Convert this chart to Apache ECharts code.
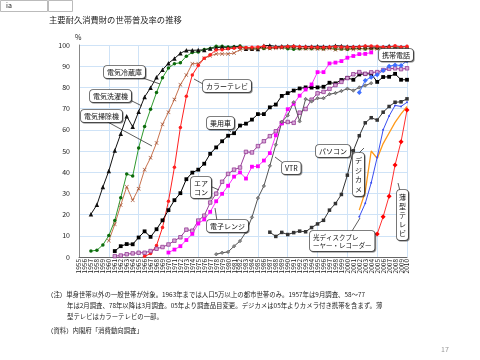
<!DOCTYPE html>
<html><head><meta charset="utf-8">
<script src="https://cdn.jsdelivr.net/npm/echarts@6/dist/echarts.min.js"></script>
<style>html,body{margin:0;padding:0;background:#fff}#c{width:480px;height:360px}</style>
</head><body><div id="c"></div>
<script>
const years = ['1955','1956','1957','1958','1959','1960','1961','1962','1963','1964','1965','1966','1967','1968','1969','1970','1971','1972','1973','1974','1975','1976','1977','1978','1979','1980','1981','1982','1983','1984','1985','1986','1987','1988','1989','1990','1991','1992','1993','1994','1995','1996','1997','1998','1999','2000','2001','2002','2003','2004','2005','2006','2007','2008','2009','2010'];
const yTicks = [0,10,20,30,40,50,60,70,80,90,100];

const washer = [20.2,24.6,33.0,40.6,50.2,58.1,66.4,61.4,68.5,75.5,79.8,84.8,88.3,91.4,93.6,96.1,97.5,97.5,97.6,97.7,98.4,98.7,99.0,98.8,99.2,99.3,98.2,98.2,98.1,99.7,99.8,99.3,99.4,99.5,99.5,99.3,99.3,99.3,99.4,99.3,99.2,99.7,99.5,99.3,99.2,99.3,99.4,99.0,99.0,99.0,99.5,99.0,99.1,99.2];
const fridge = [2.8,3.2,5.7,10.1,17.2,28.0,39.1,38.2,51.4,61.6,69.7,77.6,84.6,89.1,91.2,91.6,94.7,96.5,96.7,97.9,98.4,99.4,99.4,99.1,99.2,99.5,98.7,98.4,98.4,98.4,98.5,98.8,98.9,98.2,98.0,98.2,98.3,98.2,98.5,98.2,98.8,98.1,98.1,98.0,98.4,98.4,98.1,98.4,98.5,98.4,98.5,98.4,98.6,98.2];
const vacuum = [7.7,15.4,24.5,33.1,26.8,32.2,41.2,46.8,53.8,62.6,68.3,74.3,81.3,85.8,91.2,91.2,93.7,94.9,95.8,95.8,95.8,96.2,97.8,98.3,98.1,98.3,98.5,98.4,98.5,98.6,98.8,98.8,98.3,98.2,98.3,98.1,98.0,98.3,97.8,98.1,98.0,97.9,98.2,98.3,98.1,98.2,98.2,98.4,98.3,98.2,98.3];
const colorTV = [0.3,1.6,5.4,13.9,26.3,42.3,61.1,75.8,85.9,90.3,93.7,95.4,97.7,97.8,98.2,98.5,98.9,98.8,98.9,99.1,99.4,98.7,98.9,99.0,99.3,99.4,99.2,99.0,99.0,98.9,98.9,99.1,99.2,99.0,99.0,99.0,99.2,99.5,99.5,99.4,99.0,99.0,99.7,99.1,99.4];
const car = [2.8,5.1,6.1,6.0,9.2,12.1,9.5,13.1,17.3,22.1,26.8,30.1,36.7,39.8,41.2,44.0,48.7,51.7,54.6,57.2,58.4,62.0,62.9,64.8,67.4,67.4,70.6,71.9,76.0,77.3,78.5,79.5,80.0,79.9,80.0,80.3,82.2,81.9,83.5,84.5,83.6,86.1,86.4,86.4,82.6,84.9,85.0,86.4,83.6,83.6];
const aircon = [0.4,0.7,1.3,1.7,2.0,2.0,2.8,3.9,4.7,5.9,7.7,9.3,12.9,12.4,17.2,19.5,25.7,29.9,35.5,39.2,41.2,42.2,49.6,49.3,52.3,54.6,57.0,59.3,63.3,63.7,63.3,68.1,69.8,74.2,77.2,77.9,79.3,81.1,82.6,84.4,86.2,87.2,86.4,87.1,87.2,88.2,88.8,89.0,88.6,89.0];
const microwave = [2.1,3.5,5.1,8.0,10.9,15.8,17.7,21.3,26.3,29.8,33.6,37.9,39.9,37.0,42.6,42.8,45.5,49.0,57.4,63.0,69.7,72.3,76.1,79.0,81.4,87.2,87.2,91.3,91.7,92.4,94.0,94.8,95.7,95.8,96.5];
const vtr = [1.3,2.0,2.4,5.1,7.5,11.8,18.7,27.8,33.5,43.0,53.0,63.7,66.8,73.0,64.0,74.5,73.4,74.9,74.9,76.8,77.3,78.3,79.4,78.5,80.0,80.9,82.0];
const pc = [11.7,9.7,11.6,10.6,11.5,12.2,11.9,13.9,15.6,17.3,22.1,25.2,29.5,38.6,50.1,57.2,63.3,65.7,64.6,68.3,71.0,73.0,73.2,74.6];
const mobile = [77.6,83.3,84.8,86.0,88.0,90.0,90.6,90.3,92.6];
const digicam = [22.1,30.8,50.0,46.5,53.5,58.5,63.5,67.5,71.0];
const optical = [19.0,25.3,35.0,47.0,60.0,66.5,71.5,71.0,73.0];
const flatTV = [10.8,19.0,28.7,43.4,54.4,69.3];

function pad(startYear, vals){
  const out = years.map(()=>null);
  const off = years.indexOf(String(startYear));
  vals.forEach((v,i)=>{ out[off+i]=v; });
  return out;
}
function s(name, start, vals, color, symbol, size, extra){
  return Object.assign({
    name, type:'line', data: pad(start, vals), symbol, symbolSize: size,
    lineStyle:{color, width:1}, itemStyle:{color, borderWidth:0},
    showSymbol: symbol!=='none', animation:false, z:3
  }, extra||{});
}
const series = [
  s('電気冷蔵庫',1957,fridge,'#2e9a2e','circle',3.5,{itemStyle:{color:'#0d6b0d'}}),
  s('電気洗濯機',1957,washer,'#111','triangle',4.5),
  s('電気掃除機',1960,vacuum,'#c8734f','path://M0,1L1,0L5,4L9,0L10,1L6,5L10,9L9,10L5,6L1,10L0,9L4,5Z',4,{itemStyle:{color:'#a04a2a'}}),
  s('カラーテレビ',1966,colorTV,'#ff2020','circle',3.5),
  s('乗用車',1961,car,'#000','rect',3.8),
  s('エアコン',1961,aircon,'#9b3f9b','rect',3.5,{itemStyle:{color:'#d7a8d7',borderColor:'#8a2a8a',borderWidth:0.7}}),
  s('電子レンジ',1970,microwave,'#ff33ff','rect',3.8,{itemStyle:{color:'#ff00ff'}}),
  s('VTR',1978,vtr,'#555','diamond',3.5,{itemStyle:{color:'#888',borderColor:'#444',borderWidth:0.5}}),
  s('パソコン',1987,pc,'#333','path://M0,0L10,0L10,3L0,3Z',3.5),
  s('デジカメ',2002,digicam,'#ff9a1a','none',0,{lineStyle:{color:'#ff9a1a',width:1.3}}),
  s('光ディスクプレーヤー・レコーダー',2002,optical,'#3a4ef0','circle',2),
  s('携帯電話',2002,mobile,'#3f6fff','diamond',5,{itemStyle:{color:'#3f6fff'}}),
  s('薄型テレビ',2005,flatTV,'#ff3030','diamond',5,{itemStyle:{color:'#ff0000'}})
];

const F = '"Noto Sans CJK JP", sans-serif';
function box(x,y,text,fs,extra){
  return Object.assign({type:'text', x, y, z:10, style:{text, font: (fs||7)+'px '+F, fill:'#111',
    backgroundColor:'#fff', borderColor:'#555', borderWidth:0.8, borderRadius:3, padding:[2,3,1,3],
    shadowColor:'rgba(0,0,0,0.35)', shadowOffsetX:1, shadowOffsetY:1, lineHeight:(fs||7)+2}}, extra||{});
}
function vbox(x,y,text,lh){
  return {type:'text', x, y, z:10, style:{text, font:'7px '+F, fill:'#111', backgroundColor:'#fff', borderColor:'#555', borderWidth:0.8, borderRadius:3, padding:[3,2,2,2], lineHeight:lh, shadowColor:'rgba(0,0,0,0.35)', shadowOffsetX:1, shadowOffsetY:1}};
}
function lead(pts){ return {type:'polyline', z:9, shape:{points:pts}, style:{stroke:'#333', lineWidth:0.8, fill:null}}; }

const graphic = [
  {type:'rect', shape:{x:0.5,y:0.5,width:47,height:11}, style:{fill:'#fff',stroke:'#bbb',lineWidth:1}},
  {type:'rect', shape:{x:48.5,y:0.5,width:24,height:11}, style:{fill:'#fff',stroke:'#bbb',lineWidth:1}},
  {type:'text', x:6, y:2, style:{text:'ia', font:'7px '+F, fill:'#222'}},
  {type:'text', x:49, y:16, style:{text:'主要耐久消費財の世帯普及率の推移', font:'8.3px '+F, fill:'#222'}},
  {type:'text', x:75, y:34, style:{text:'%', font:'7px '+F, fill:'#222'}},
  lead([[140,77],[160,84]]), box(104,66,'電気冷蔵庫'),
  lead([[128,99],[142,106]]), box(90,90,'電気洗濯機'),
  lead([[104,120],[152,146]]), box(81,110,'電気掃除機'),
  lead([[203,84],[194,79]]), box(203,80,'カラーテレビ'),
  lead([[224,126],[231,132]]), box(207,117,'乗用車'),
  lead([[403,58],[406,62]]), box(379,49,'携帯電話'),
  lead([[347,149],[353,151]]), box(316,145,'パソコン'),
  lead([[283,163],[275,157]]), box(282,162,'VTR'),
  lead([[212,187],[219,190]]), box(191,177,'エア\nコン'),
  lead([[217,221],[215,208]]), box(207,220,'電子レンジ'),
  lead([[358,154],[364,148]]), vbox(353,153,'デ\nジ\nカ\nメ',9.5),
  lead([[352,231],[360,218]]), box(310,231,'光ディスクプレ\nーヤー・レコーダー',6.5),
  lead([[400,191],[398,183]]), vbox(397,190,'薄\n型\nテ\nレ\nビ',9),
  {type:'text', x:47, y:291, style:{text:'（注）単身世帯以外の一般世帯が対象。1963年までは人口5万以上の都市世帯のみ。1957年は9月調査、58～77', font:'6.4px '+F, fill:'#222'}},
  {type:'text', x:67, y:302, style:{text:'年は2月調査、78年以降は3月調査。05年より調査品目変更。デジカメは05年よりカメラ付き携帯を含まず。薄', font:'6.4px '+F, fill:'#222'}},
  {type:'text', x:67, y:313, style:{text:'型テレビはカラーテレビの一部。', font:'6.4px '+F, fill:'#222'}},
  {type:'text', x:47, y:327, style:{text:'（資料）内閣府「消費動向調査」', font:'6.4px '+F, fill:'#222'}},
  {type:'text', x:441, y:346, style:{text:'17', font:'7px '+F, fill:'#999'}}
];

const chart = echarts.init(document.getElementById('c'), null, {renderer:'canvas'});
chart.setOption({
  backgroundColor:'#fff',
  animation:false,
  grid:{left:79, right:73, top:45, bottom:103, containLabel:false},
  xAxis:{type:'category', data:years, boundaryGap:false,
    axisLine:{lineStyle:{color:'#666', width:1}}, axisTick:{show:false},
    axisLabel:{interval:0, rotate:90, fontSize:6.5, color:'#222', margin:2, fontFamily:F},
    splitLine:{show:true, interval:4, lineStyle:{color:'#cfe3f7', width:1}}},
  yAxis:{type:'value', min:0, max:100, interval:10,
    axisLine:{show:true, lineStyle:{color:'#888'}}, axisTick:{show:false},
    axisLabel:{fontSize:7, color:'#222', margin:9, fontFamily:F, formatter:v=>yTicks.includes(v)?String(v):''},
    splitLine:{lineStyle:{color:'#cfe3f7', width:1}}},
  series, graphic
});
</script></body></html>
